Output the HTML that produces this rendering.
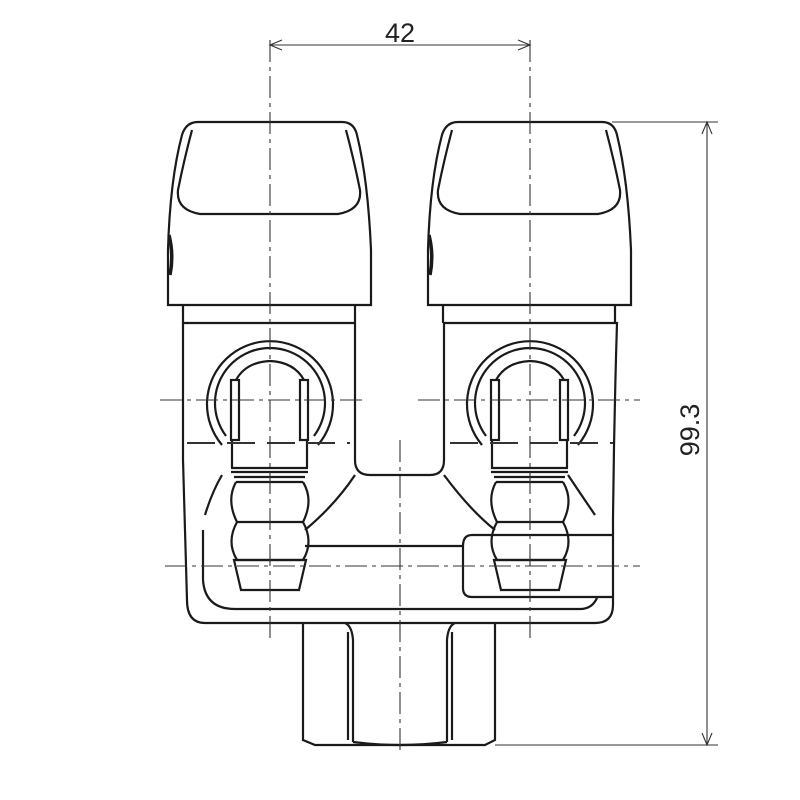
<!DOCTYPE html>
<html><head><style>html,body{margin:0;padding:0;background:#fff}svg{display:block}</style></head><body>
<svg width="800" height="800" viewBox="0 0 800 800" xmlns="http://www.w3.org/2000/svg">
<defs>
<g id="valve" fill="none" stroke="#1a1a1a" stroke-width="2.2">
  <path d="M168,305 L168,250 Q170,180 182,135 Q186,122 198,122 L342,122 Q354,122 357,135 Q368,180 371,250 L371,305 Z"/>
  <path d="M192,130 Q184,160 178,190 Q176,210 200,214 L338,214 Q362,210 360,190 Q354,160 346,130"/>
  <path d="M169,235 Q174,255 170,275" stroke-width="3.5"/>
  <path d="M183,305 L183,323 M355,305 L355,323"/>
  <path d="M222,445 A63,63 0 1 1 318,445"/>
  <path d="M226,436 A55,55 0 1 1 314,436"/>
  <path d="M236,380 Q246,362 270,361 Q294,362 304,380"/>
  <rect x="231" y="380" width="8" height="60"/>
  <rect x="300" y="380" width="8" height="60"/>
  <path d="M232,440 L232,468 M307,440 L307,468"/>
  <path d="M231,468 L308,468 M231,472 L308,472 M234,477 L305,477 M236,482 L303,482"/>
  <path d="M236,482 Q226,500 237,522 Q226,542 237,560 M303,482 Q314,500 303,522 Q314,542 303,560"/>
  <path d="M237,522 L303,522 M237,560 L303,560"/>
  <path d="M234,560 L306,560 L299,590 L241,590 Z"/>
</g>
</defs>

<g fill="none" stroke="#1a1a1a" stroke-width="2.2">
  <path d="M355,323 L183,323 L183,460 Q185,520 187,600 Q187,623 205,623 L595,623 Q613,623 613,605 L613,520 Q614,420 617,323 L444,323"/>
  <path d="M355,323 L355,460 Q355,475 370,475 L430,475 Q444,475 444,460 L444,323"/>
  <path d="M355,475 Q335,505 305,530 M444,475 Q470,510 495,530"/>
  <path d="M222,475 Q212,492 205,515 M568,475 Q578,490 595,515"/>
  <path d="M203,530 L203,580 Q205,609 235,609 L580,609 Q592,609 597,598"/>
  <path d="M305,546 L463,546"/>
  <path d="M463,546 Q463,535 472,535 L613,535 M472,597 Q463,597 463,588 L463,546 M472,597 L613,597"/>
  <path d="M303,623 L303,740 L315,745 L485,745 L495,740 L495,623"/>
  <path d="M345,623 Q352,626 353,640 L353,742 M348,632 L348,740"/>
  <path d="M455,623 Q448,626 447,640 L447,742 M452,632 L452,740"/>
  <path d="M353,742 Q400,748 447,742"/>
</g>

<use href="#valve"/>
<use href="#valve" transform="translate(260,0)"/>

<g stroke="#333" stroke-width="1.1" fill="none" stroke-dasharray="22,5,4,5">
  <path d="M270,40 L270,640"/>
  <path d="M530,40 L530,640"/>
  <path d="M400,440 L400,750"/>
  <path d="M160,400 L367,400 M418,400 L640,400"/>
  <path d="M165,566 L640,566"/>
</g>
<g stroke="#333" stroke-width="2" stroke-dasharray="28,12">
  <path d="M187,443 L350,443 M450,443 L613,443"/>
</g>

<g stroke="#333" stroke-width="1.1" fill="none">
  <path d="M270,45 L530,45"/>
  <path d="M282,40 L270,45 L282,50 M518,40 L530,45 L518,50"/>
  <path d="M612,122 L718,122 M495,745 L718,745"/>
  <path d="M707,122 L707,745"/>
  <path d="M702,134 L707,122 L712,134 M702,733 L707,745 L712,733"/>
</g>
<text x="400" y="42" font-family="Liberation Sans, sans-serif" font-size="27" text-anchor="middle" fill="#222">42</text>
<text transform="translate(699,430) rotate(-90)" font-family="Liberation Sans, sans-serif" font-size="27" text-anchor="middle" fill="#222">99.3</text>
</svg>
</body></html>
